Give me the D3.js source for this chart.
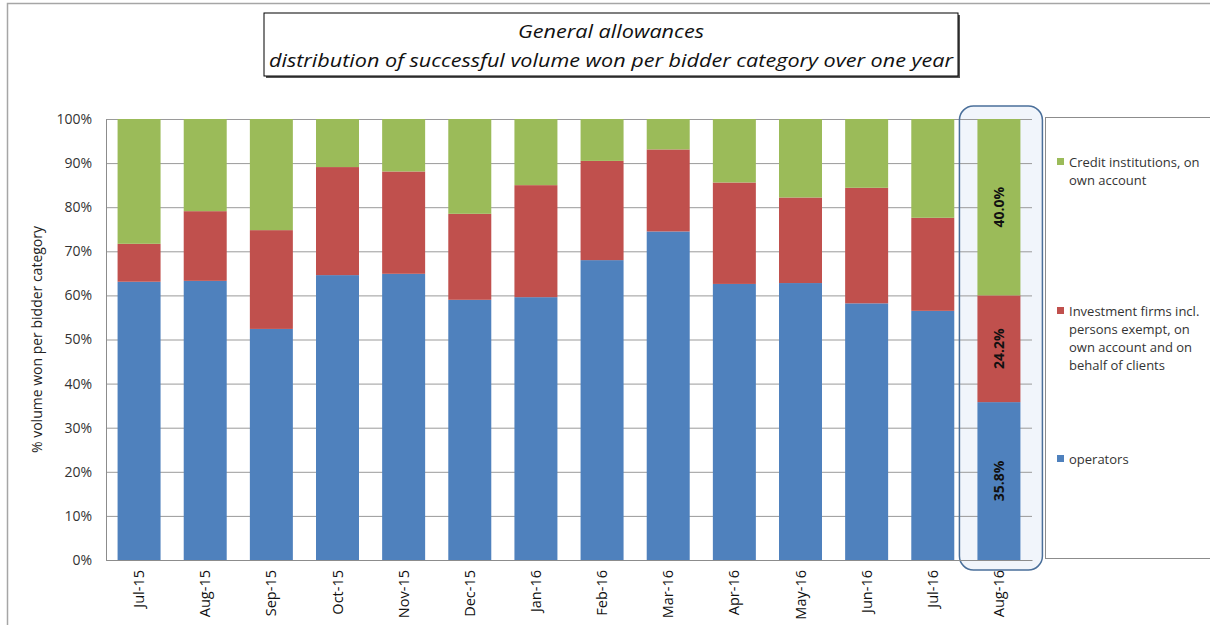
<!DOCTYPE html>
<html>
<head>
<meta charset="utf-8">
<script src="https://cdn.jsdelivr.net/npm/d3@7"></script>
<style>
  body { margin: 0; background: #fff; }
  text { font-family: "Open Sans", "DejaVu Sans", sans-serif; }
</style>
</head>
<body>
<svg width="1210" height="625" id="mainsvg"></svg>
<script>
const months = ["Jul-15", "Aug-15", "Sep-15", "Oct-15", "Nov-15", "Dec-15", "Jan-16",
  "Feb-16", "Mar-16", "Apr-16", "May-16", "Jun-16", "Jul-16", "Aug-16"];
const operators = [63.1, 63.3, 52.4, 64.6, 64.9, 59.0, 59.6, 68.0, 74.5, 62.6, 62.8, 58.2, 56.5, 35.8];
const investment = [8.6, 15.8, 22.4, 24.5, 23.2, 19.5, 25.4, 22.5, 18.6, 23.0, 19.4, 26.2, 21.1, 24.2];
const credit = [28.3, 20.9, 25.2, 10.9, 11.9, 21.5, 15.0, 9.5, 6.9, 14.4, 17.8, 15.6, 22.4, 40.0];
const yTicks = [0, 10, 20, 30, 40, 50, 60, 70, 80, 90, 100];
const KEYS = ["operators", "investment", "credit"];
const legendLines = {
  credit: ["Credit institutions, on", "own account"],
  investment: ["Investment firms incl.", "persons exempt, on", "own account and on", "behalf of clients"],
  operators: ["operators"]
};
const colors = { operators: "#4F81BD", investment: "#C0504D", credit: "#9BBB59" };

const svg = d3.select('svg');
const margin = { top: 119, left: 106, right: 178, bottom: 65 };
const width = +svg.attr('width'), height = +svg.attr('height');
const innerWidth = width - margin.left - margin.right;
const innerHeight = height - margin.top - margin.bottom;

const rows = months.map((m, i) => ({ month: m, operators: operators[i], investment: investment[i], credit: credit[i] }));
const stacked = d3.stack().keys(KEYS)(rows);

// scales work in page coordinates so every label sits directly in the svg
const x = d3.scaleBand().domain(months).range([margin.left, margin.left + innerWidth]).paddingInner(0.35).paddingOuter(0.175);
const y = d3.scaleLinear().domain([0, 100]).range([margin.top + innerHeight, margin.top]);

// outer chart frame
svg.append('path').attr('d', `M7.5,${height} V3.5 H${width}`).attr('fill', 'none').attr('stroke', '#a6a6a6').attr('stroke-width', 1.5);

// title box with shadow
const tb = { x: 264, y: 13, w: 694, h: 63 };
svg.append('rect').attr('x', tb.x + 2).attr('y', tb.y + 2).attr('width', tb.w).attr('height', tb.h).attr('fill', '#555');
svg.append('rect').attr('x', tb.x).attr('y', tb.y).attr('width', tb.w).attr('height', tb.h).attr('fill', '#fff').attr('stroke', '#000');
svg.append('text').attr('x', tb.x + tb.w / 2).attr('y', 38).attr('text-anchor', 'middle')
  .attr('font-size', 19).attr('font-style', 'italic').attr('fill', '#111').attr('textLength', 186).attr('lengthAdjust', 'spacingAndGlyphs')
  .text('General allowances');
svg.append('text').attr('x', tb.x + tb.w / 2).attr('y', 67).attr('text-anchor', 'middle')
  .attr('font-size', 19).attr('font-style', 'italic').attr('fill', '#111').attr('textLength', 684).attr('lengthAdjust', 'spacingAndGlyphs')
  .text('distribution of successful volume won per bidder category over one year');

// highlight of last month (fill behind grid)
const last = months[months.length - 1];
const hx = x(last) - 18, hw = x.bandwidth() + 40;
const hy = margin.top - 13, hh = innerHeight + 23;
svg.append('rect').attr('x', hx).attr('y', hy).attr('width', hw).attr('height', hh)
  .attr('rx', 14).attr('fill', '#F1F5FB');

// gridlines
svg.append('g').selectAll('line').data(yTicks).join('line')
  .attr('x1', margin.left).attr('x2', margin.left + innerWidth)
  .attr('y1', d => y(d) + 0.5).attr('y2', d => y(d) + 0.5)
  .attr('stroke', '#9a9a9a').attr('stroke-width', 1);

// bars
svg.append('g').selectAll('g').data(stacked).join('g').attr('fill', d => colors[d.key])
  .selectAll('rect').data(d => d).join('rect')
  .attr('x', d => x(d.data.month)).attr('width', x.bandwidth())
  .attr('y', d => y(d[1])).attr('height', d => y(d[0]) - y(d[1]));

// data labels on last month
stacked.forEach(s => {
  const d = s[s.length - 1];
  const cx = x(last) + x.bandwidth() / 2, cy = (y(d[0]) + y(d[1])) / 2;
  svg.append('text').attr('transform', `translate(${cx + 5}, ${cy}) rotate(-90)`)
    .attr('text-anchor', 'middle').attr('font-size', 14).attr('font-weight', 'bold').attr('fill', '#111')
    .text((d[1] - d[0]).toFixed(1) + '%');
});

// highlight outline
svg.append('rect').attr('x', hx).attr('y', hy).attr('width', hw).attr('height', hh)
  .attr('rx', 14).attr('fill', 'none').attr('stroke', '#4a6f9a').attr('stroke-width', 1.5);

// axes
const yAxis = d3.axisLeft(y).tickValues(yTicks).tickFormat(d => d + '%').tickSize(0).tickPadding(14);
const yg = svg.append('g').attr('transform', `translate(${margin.left}, 0)`).call(yAxis);
yg.select('.domain').attr('stroke', '#8c8c8c');
yg.selectAll('text').attr('font-size', 14).attr('fill', '#333').attr('font-family', '"Liberation Sans Narrow", "Liberation Sans", sans-serif');

const xAxis = d3.axisBottom(x).tickSize(0).tickFormat('');
const xg = svg.append('g').attr('transform', `translate(0, ${margin.top + innerHeight})`).call(xAxis);
xg.select('.domain').attr('stroke', '#8c8c8c');
svg.append('g').selectAll('text').data(months).join('text')
  .attr('transform', d => `translate(${x(d) + x.bandwidth() / 2 + 5}, ${margin.top + innerHeight + 10}) rotate(-90)`)
  .attr('text-anchor', 'end').attr('font-size', 14.5).attr('fill', '#111')
  .text(d => d);

// y axis title
svg.append('text').attr('transform', `translate(42, ${margin.top + innerHeight / 2}) rotate(-90)`)
  .attr('text-anchor', 'middle').attr('font-size', 14).attr('fill', '#222')
  .text('% volume won per bidder category');

// legend
svg.append('rect').attr('x', 1045.5).attr('y', 117.5).attr('width', 180).attr('height', 441)
  .attr('fill', '#fff').attr('stroke', '#8c8c8c');
const legendY = { credit: 162, investment: 311, operators: 459 };
["credit", "investment", "operators"].forEach(k => {
  const ly = legendY[k];
  svg.append('rect').attr('x', 1057).attr('y', ly - 4).attr('width', 7).attr('height', 7).attr('fill', colors[k]);
  svg.append('text').attr('x', 1069).attr('y', ly).attr('font-size', 13).attr('fill', '#333')
    .selectAll('tspan').data(legendLines[k]).join('tspan')
    .attr('x', 1069).attr('dy', (d, i) => i === 0 ? '0.35em' : 18).text(d => d);
});
</script>
</body>
</html>
